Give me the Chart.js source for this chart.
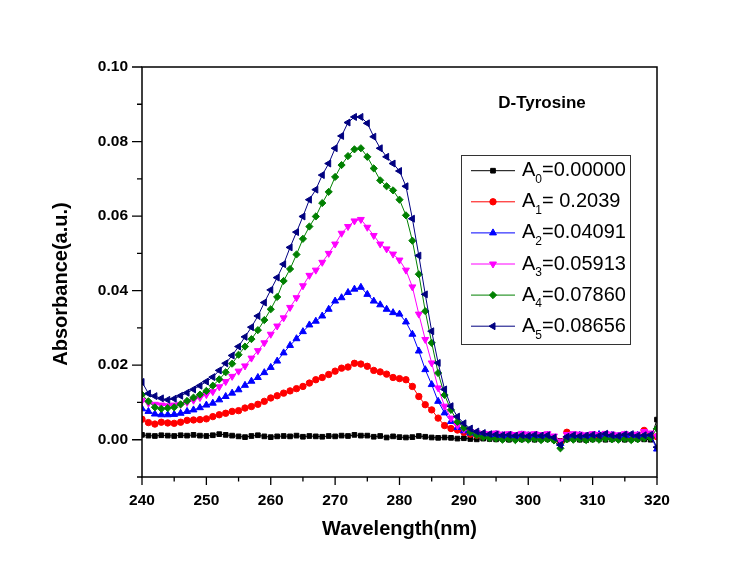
<!DOCTYPE html>
<html>
<head>
<meta charset="utf-8">
<script src="https://cdn.jsdelivr.net/npm/chart.js@4.4.0/dist/chart.umd.min.js"></script>
<style>
  html, body { margin: 0; padding: 0; background: #fff; }
  canvas { display: block; }
</style>
</head>
<body>
<canvas id="chart" width="746" height="563"></canvas>
<script>
// wavelength grid, 1 nm steps from 240 to 320
const wavelengths = Array.from({ length: 81 }, (_, i) => 240 + i);

const legendSubs = ['0', '1', '2', '3', '4', '5'];
const legendValues = ['=0.00000', '= 0.2039', '=0.04091', '=0.05913', '=0.07860', '=0.08656'];
const plotTitle = 'D-Tyrosine';
const xTitle = 'Wavelength(nm)';
const yTitle = 'Absorbance(a.u.)';

const xTicks = [240, 250, 260, 270, 280, 290, 300, 310, 320];
const xMinorTicks = [245, 255, 265, 275, 285, 295, 305, 315];
const yTicks = [0, 0.02, 0.04, 0.06, 0.08, 0.10];
const yMinorTicks = [-0.01, 0.01, 0.03, 0.05, 0.07, 0.09];

const a0 = [
  0.0013, 0.0011, 0.0010, 0.0012, 0.0011, 0.0010, 0.0012, 0.0011, 0.0013, 0.0011,
  0.0010, 0.0012, 0.0015, 0.0013, 0.0011, 0.0009, 0.0007, 0.0010, 0.0012, 0.0009,
  0.0007, 0.0009, 0.0010, 0.0009, 0.0011, 0.0008, 0.0010, 0.0009, 0.0008, 0.0010,
  0.0009, 0.0011, 0.0010, 0.0013, 0.0011, 0.0011, 0.0008, 0.0010, 0.0006, 0.0009,
  0.0007, 0.0006, 0.0007, 0.0010, 0.0008, 0.0006, 0.0005, 0.0006, 0.0005, 0.0003,
  0.0004, 0.0002, 0.0001, 0.0003, 0.0002, 0.0001, 0.0002, 0.0000, 0.0002, 0.0001,
  0.0002, 0.0000, 0.0001, 0.0002, 0.0000, -0.0003, 0.0001, 0.0002, 0.0000, -0.0001,
  0.0001, 0.0002, 0.0000, 0.0001, 0.0002, 0.0000, 0.0001, 0.0002, 0.0001, 0.0000,
  0.0054
];
const a1 = [
  0.0055, 0.0046, 0.0042, 0.0047, 0.0045, 0.0044, 0.0047, 0.0052, 0.0053, 0.0054,
  0.0056, 0.0062, 0.0067, 0.0071, 0.0076, 0.0078, 0.0085, 0.0089, 0.0095, 0.0103,
  0.0112, 0.0118, 0.0125, 0.0131, 0.0137, 0.0143, 0.0152, 0.0161, 0.0167, 0.0175,
  0.0184, 0.0192, 0.0195, 0.0205, 0.0203, 0.0197, 0.0186, 0.0182, 0.0176, 0.0167,
  0.0164, 0.0161, 0.0143, 0.0116, 0.0094, 0.0080, 0.0058, 0.0038, 0.0030, 0.0026,
  0.0020, 0.0015, 0.0012, 0.0010, 0.0009, 0.0008, 0.0010, 0.0007, 0.0008, 0.0009,
  0.0007, 0.0010, 0.0008, 0.0006, 0.0003, -0.0006, 0.0020, 0.0009, 0.0008, 0.0006,
  0.0007, 0.0009, 0.0008, 0.0006, 0.0008, 0.0010, 0.0007, 0.0009, 0.0025, 0.0012,
  0.0008
];
const a2 = [
  0.0083, 0.0076, 0.0069, 0.0067, 0.0067, 0.0068, 0.0071, 0.0076, 0.0080, 0.0086,
  0.0093, 0.0098, 0.0107, 0.0116, 0.0125, 0.0134, 0.0146, 0.0157, 0.0167, 0.0180,
  0.0194, 0.0211, 0.0233, 0.0253, 0.0271, 0.0290, 0.0308, 0.0318, 0.0332, 0.0350,
  0.0372, 0.0381, 0.0395, 0.0404, 0.0409, 0.0390, 0.0372, 0.0362, 0.0350, 0.0341,
  0.0337, 0.0316, 0.0283, 0.0238, 0.0188, 0.0148, 0.0103, 0.0072, 0.0049, 0.0033,
  0.0024, 0.0018, 0.0015, 0.0013, 0.0012, 0.0014, 0.0011, 0.0012, 0.0010, 0.0013,
  0.0011, 0.0012, 0.0010, 0.0012, 0.0004, -0.0010, 0.0008, 0.0011, 0.0012, 0.0010,
  0.0012, 0.0014, 0.0011, 0.0012, 0.0010, 0.0013, 0.0011, 0.0012, 0.0013, 0.0010,
  -0.0025
];
const a3 = [
  0.0105, 0.0098, 0.0095, 0.0093, 0.0091, 0.0093, 0.0095, 0.0100, 0.0106, 0.0113,
  0.0121, 0.0129, 0.0142, 0.0156, 0.0170, 0.0184, 0.0198, 0.0219, 0.0239, 0.0260,
  0.0283, 0.0305, 0.0327, 0.0355, 0.0381, 0.0413, 0.0441, 0.0455, 0.0476, 0.0500,
  0.0525, 0.0554, 0.0572, 0.0587, 0.0591, 0.0570, 0.0548, 0.0525, 0.0512, 0.0498,
  0.0482, 0.0455, 0.0410, 0.0337, 0.0269, 0.0206, 0.0139, 0.0090, 0.0058, 0.0038,
  0.0028, 0.0022, 0.0019, 0.0017, 0.0016, 0.0018, 0.0015, 0.0016, 0.0014, 0.0017,
  0.0015, 0.0016, 0.0014, 0.0016, 0.0010, -0.0004, 0.0014, 0.0016, 0.0015, 0.0013,
  0.0016, 0.0014, 0.0017, 0.0015, 0.0013, 0.0016, 0.0014, 0.0015, 0.0022, 0.0018,
  0.0010
];
const a4 = [
  0.0121, 0.0103, 0.0087, 0.0083, 0.0085, 0.0087, 0.0095, 0.0104, 0.0113, 0.0121,
  0.0131, 0.0145, 0.0162, 0.0181, 0.0204, 0.0228, 0.0250, 0.0270, 0.0294, 0.0321,
  0.0350, 0.0383, 0.0426, 0.0458, 0.0497, 0.0539, 0.0572, 0.0599, 0.0635, 0.0665,
  0.0705, 0.0737, 0.0761, 0.0779, 0.0782, 0.0759, 0.0728, 0.0696, 0.0680, 0.0669,
  0.0644, 0.0602, 0.0534, 0.0444, 0.0345, 0.0260, 0.0179, 0.0120, 0.0080, 0.0048,
  0.0032, 0.0020, 0.0012, 0.0007, 0.0004, 0.0003, 0.0000, 0.0002, -0.0001, 0.0001,
  0.0000, 0.0002, -0.0001, 0.0001, -0.0002, -0.0023, 0.0001, 0.0000, 0.0002, -0.0001,
  0.0001, 0.0000, 0.0003, 0.0001, 0.0000, 0.0002, -0.0001, 0.0001, 0.0004, 0.0005,
  0.0030
];
const a5 = [
  0.0155, 0.0124, 0.0117, 0.0111, 0.0107, 0.0110, 0.0118, 0.0126, 0.0135, 0.0145,
  0.0156, 0.0168, 0.0186, 0.0205, 0.0226, 0.0250, 0.0276, 0.0302, 0.0332, 0.0368,
  0.0402, 0.0435, 0.0471, 0.0516, 0.0557, 0.0599, 0.0644, 0.0671, 0.0710, 0.0741,
  0.0782, 0.0815, 0.0851, 0.0866, 0.0866, 0.0849, 0.0813, 0.0782, 0.0759, 0.0741,
  0.0721, 0.0680, 0.0593, 0.0494, 0.0390, 0.0291, 0.0206, 0.0135, 0.0090, 0.0062,
  0.0044, 0.0030, 0.0022, 0.0018, 0.0015, 0.0014, 0.0012, 0.0013, 0.0011, 0.0012,
  0.0010, 0.0013, 0.0011, 0.0012, 0.0006, -0.0014, 0.0008, 0.0012, 0.0010, 0.0011,
  0.0013, 0.0011, 0.0016, 0.0012, 0.0010, 0.0014, 0.0015, 0.0011, 0.0012, 0.0013,
  -0.0020
];

const series = [a0, a1, a2, a3, a4, a5];
const colors = ['#000000', '#ff0000', '#0000ff', '#ff00ff', '#008000', '#000080'];
const styles = [
  { pointStyle: 'rect', rotation: 0, radius: 3.3 },
  { pointStyle: 'circle', rotation: 0, radius: 3.2 },
  { pointStyle: 'triangle', rotation: 0, radius: 4 },
  { pointStyle: 'triangle', rotation: 180, radius: 4 },
  { pointStyle: 'rectRot', rotation: 0, radius: 3.6 },
  { pointStyle: 'triangle', rotation: -90, radius: 4 }
];

const FONT = 'Arial, "Liberation Sans", sans-serif';

const datasets = series.map((vals, i) => ({
  label: 'A' + legendSubs[i] + legendValues[i],
  data: vals.map((v, j) => ({ x: wavelengths[j], y: v })),
  borderColor: colors[i],
  backgroundColor: colors[i],
  borderWidth: 1,
  pointStyle: styles[i].pointStyle,
  pointRotation: styles[i].rotation,
  pointRadius: styles[i].radius,
  pointBorderWidth: 1,
  tension: 0,
  order: 5 - i
}));

// frame, tick marks, titles and legend
const decorations = {
  id: 'decorations',
  afterDraw(chart) {
    const { ctx, chartArea: a, scales: { x, y } } = chart;
    ctx.save();
    ctx.strokeStyle = '#000';
    ctx.lineWidth = 1.5;
    ctx.strokeRect(a.left, a.top, a.right - a.left, a.bottom - a.top);

    ctx.lineWidth = 1.3;
    ctx.beginPath();
    xTicks.forEach(v => {
      const px = x.getPixelForValue(v);
      ctx.moveTo(px, a.bottom); ctx.lineTo(px, a.bottom + 8);
    });
    xMinorTicks.forEach(v => {
      const px = x.getPixelForValue(v);
      ctx.moveTo(px, a.bottom); ctx.lineTo(px, a.bottom + 4.5);
    });
    yTicks.forEach(v => {
      const py = y.getPixelForValue(v);
      ctx.moveTo(a.left, py); ctx.lineTo(a.left - 10, py);
    });
    yMinorTicks.forEach(v => {
      const py = y.getPixelForValue(v);
      ctx.moveTo(a.left, py); ctx.lineTo(a.left - 5, py);
    });
    ctx.stroke();

    // plot title
    ctx.fillStyle = '#000';
    ctx.font = 'bold 17px ' + FONT;
    ctx.textAlign = 'center';
    ctx.textBaseline = 'middle';
    ctx.fillText(plotTitle, 542, 103);

    // y axis title
    ctx.save();
    ctx.translate(61, 284);
    ctx.rotate(-Math.PI / 2);
    ctx.font = 'bold 20px ' + FONT;
    ctx.fillText(yTitle, 0, 0);
    ctx.restore();

    // legend box
    const box = { left: 461, top: 155, width: 169, height: 189 };
    ctx.fillStyle = '#fff';
    ctx.fillRect(box.left, box.top, box.width, box.height);
    ctx.strokeStyle = '#333';
    ctx.lineWidth = 1;
    ctx.strokeRect(box.left + 0.5, box.top + 0.5, box.width, box.height);

    ctx.textAlign = 'left';
    chart.data.datasets.forEach((ds, i) => {
      const ry = 170.7 + i * 31.1;
      ctx.strokeStyle = ds.borderColor;
      ctx.lineWidth = 1;
      ctx.beginPath();
      ctx.moveTo(471, ry); ctx.lineTo(515, ry);
      ctx.stroke();
      ctx.fillStyle = ds.backgroundColor;
      Chart.helpers.drawPoint(ctx, {
        pointStyle: ds.pointStyle,
        rotation: ds.pointRotation,
        radius: ds.pointRadius,
        borderWidth: 1
      }, 493, ry);

      ctx.fillStyle = '#000';
      ctx.font = '20px ' + FONT;
      ctx.fillText('A', 522, ry);
      let tx = 522 + ctx.measureText('A').width;
      ctx.font = '12px ' + FONT;
      ctx.fillText(legendSubs[i], tx, ry + 9);
      tx += ctx.measureText(legendSubs[i]).width;
      ctx.font = '20px ' + FONT;
      ctx.fillText(legendValues[i], tx, ry);
    });
    ctx.restore();
  }
};

new Chart(document.getElementById('chart'), {
  type: 'line',
  data: { datasets },
  options: {
    responsive: false,
    animation: false,
    layout: { padding: { left: 0, top: 67, right: 89, bottom: 0 } },
    plugins: {
      legend: { display: false },
      tooltip: { enabled: false }
    },
    scales: {
      x: {
        type: 'linear',
        min: 240,
        max: 320,
        afterBuildTicks: s => { s.ticks = xTicks.map(v => ({ value: v })); },
        afterFit: s => { s.height = 86; },
        grid: { display: false, drawTicks: false },
        border: { display: false },
        ticks: {
          padding: 14,
          color: '#000',
          font: { family: FONT, size: 15.5, weight: 'bold' },
          maxRotation: 0,
          callback: v => String(v)
        },
        title: {
          display: true,
          text: xTitle,
          color: '#000',
          font: { family: FONT, size: 20, weight: 'bold' },
          padding: { top: 0, bottom: 22 }
        }
      },
      y: {
        type: 'linear',
        min: -0.01,
        max: 0.10,
        afterBuildTicks: s => { s.ticks = yTicks.map(v => ({ value: v })); },
        afterFit: s => { s.width = 142; },
        grid: { display: false, drawTicks: false },
        border: { display: false },
        ticks: {
          padding: 14,
          color: '#000',
          font: { family: FONT, size: 15.5, weight: 'bold' },
          callback: v => v.toFixed(2)
        }
      }
    }
  },
  plugins: [decorations]
});
</script>
</body>
</html>
